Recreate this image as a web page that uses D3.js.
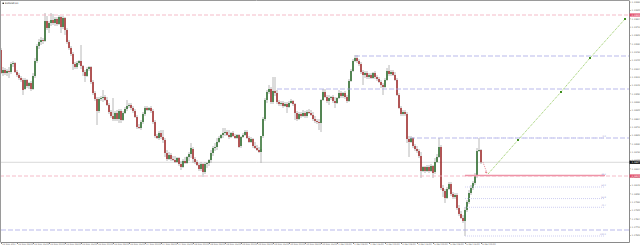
<!DOCTYPE html>
<html>
<head>
<meta charset="utf-8">
<script src="https://cdn.jsdelivr.net/npm/d3@7"></script>
<style>
  html, body { margin: 0; padding: 0; background: #fff; }
  svg { display: block; font-family: "DejaVu Sans", sans-serif; }
</style>
</head>
<body>
<div id="chart"></div>
<script>
// --- DATA ---
const symbol = "EURUSD,H1";

// H1 bars: [open, high, low, close]
const candles = [
  [1.1950,1.1952,1.1926,1.1927],[1.1927,1.1933,1.1924,1.1930],[1.1930,1.1932,1.1925,1.1927],[1.1927,1.1931,1.1924,1.1929],
  [1.1929,1.1933,1.1922,1.1928],[1.1928,1.1938,1.1926,1.1936],[1.1936,1.1939,1.1933,1.1937],[1.1937,1.1938,1.1927,1.1928],
  [1.1928,1.1930,1.1923,1.1925],[1.1925,1.1927,1.1920,1.1922],[1.1922,1.1924,1.1918,1.1920],[1.1920,1.1922,1.1905,1.1910],
  [1.1911,1.1922,1.1910,1.1920],[1.1920,1.1921,1.1912,1.1914],[1.1914,1.1918,1.1911,1.1917],[1.1917,1.1919,1.1909,1.1911],
  [1.1911,1.1927,1.1910,1.1924],[1.1924,1.1942,1.1922,1.1939],[1.1939,1.1956,1.1937,1.1954],[1.1954,1.1961,1.1951,1.1958],
  [1.1958,1.1963,1.1955,1.1960],[1.1960,1.1962,1.1956,1.1959],[1.1959,1.1987,1.1958,1.1979],[1.1979,1.1984,1.1970,1.1972],
  [1.1972,1.1979,1.1967,1.1977],[1.1977,1.1987,1.1974,1.1980],[1.1980,1.1986,1.1975,1.1977],[1.1977,1.1983,1.1974,1.1981],
  [1.1981,1.1983,1.1974,1.1976],[1.1976,1.1985,1.1975,1.1983],[1.1983,1.1984,1.1967,1.1973],[1.1973,1.1984,1.1971,1.1982],
  [1.1982,1.1983,1.1965,1.1970],[1.1970,1.1972,1.1956,1.1958],[1.1958,1.1960,1.1950,1.1952],[1.1952,1.1954,1.1944,1.1946],
  [1.1946,1.1948,1.1930,1.1936],[1.1936,1.1938,1.1931,1.1933],[1.1933,1.1939,1.1931,1.1937],[1.1937,1.1940,1.1935,1.1939],
  [1.1939,1.1955,1.1931,1.1934],[1.1934,1.1935,1.1924,1.1928],[1.1928,1.1930,1.1918,1.1924],[1.1924,1.1933,1.1923,1.1931],
  [1.1931,1.1934,1.1929,1.1933],[1.1933,1.1934,1.1916,1.1918],[1.1918,1.1920,1.1905,1.1907],[1.1907,1.1909,1.1899,1.1901],
  [1.1901,1.1903,1.1875,1.1889],[1.1889,1.1903,1.1887,1.1901],[1.1901,1.1904,1.1899,1.1902],[1.1902,1.1910,1.1898,1.1903],
  [1.1903,1.1905,1.1899,1.1900],[1.1900,1.1903,1.1894,1.1895],[1.1895,1.1897,1.1886,1.1888],[1.1888,1.1890,1.1882,1.1884],
  [1.1884,1.1902,1.1879,1.1881],[1.1881,1.1889,1.1879,1.1887],[1.1887,1.1890,1.1879,1.1881],[1.1881,1.1891,1.1877,1.1889],
  [1.1889,1.1891,1.1877,1.1880],[1.1880,1.1889,1.1879,1.1887],[1.1887,1.1893,1.1886,1.1891],[1.1891,1.1900,1.1889,1.1894],
  [1.1894,1.1897,1.1892,1.1895],[1.1895,1.1897,1.1890,1.1892],[1.1892,1.1894,1.1887,1.1889],[1.1889,1.1891,1.1882,1.1883],
  [1.1883,1.1885,1.1871,1.1873],[1.1873,1.1876,1.1871,1.1872],[1.1872,1.1880,1.1870,1.1878],[1.1878,1.1888,1.1876,1.1886],
  [1.1886,1.1894,1.1884,1.1892],[1.1892,1.1894,1.1889,1.1890],[1.1890,1.1893,1.1889,1.1892],[1.1892,1.1894,1.1887,1.1889],
  [1.1889,1.1891,1.1876,1.1878],[1.1878,1.1880,1.1862,1.1864],[1.1864,1.1866,1.1861,1.1862],[1.1862,1.1869,1.1860,1.1867],
  [1.1867,1.1870,1.1861,1.1863],[1.1863,1.1870,1.1857,1.1860],[1.1860,1.1862,1.1843,1.1847],[1.1847,1.1850,1.1839,1.1841],
  [1.1841,1.1848,1.1840,1.1845],[1.1845,1.1847,1.1839,1.1841],[1.1841,1.1844,1.1839,1.1840],[1.1840,1.1844,1.1837,1.1838],
  [1.1838,1.1843,1.1837,1.1842],[1.1842,1.1843,1.1834,1.1836],[1.1836,1.1839,1.1830,1.1833],[1.1833,1.1841,1.1832,1.1839],
  [1.1839,1.1843,1.1836,1.1837],[1.1837,1.1844,1.1836,1.1843],[1.1843,1.1848,1.1839,1.1846],[1.1846,1.1857,1.1842,1.1852],
  [1.1851,1.1853,1.1837,1.1841],[1.1841,1.1843,1.1836,1.1838],[1.1838,1.1840,1.1834,1.1835],[1.1835,1.1837,1.1829,1.1831],
  [1.1831,1.1838,1.1829,1.1836],[1.1836,1.1837,1.1823,1.1828],[1.1828,1.1838,1.1826,1.1836],[1.1836,1.1838,1.1832,1.1837],
  [1.1837,1.1841,1.1834,1.1840],[1.1840,1.1850,1.1837,1.1847],[1.1847,1.1854,1.1844,1.1852],[1.1852,1.1857,1.1849,1.1853],
  [1.1853,1.1862,1.1850,1.1858],[1.1858,1.1864,1.1857,1.1862],[1.1862,1.1866,1.1861,1.1865],[1.1865,1.1872,1.1862,1.1867],
  [1.1867,1.1872,1.1864,1.1868],[1.1868,1.1870,1.1864,1.1865],[1.1865,1.1870,1.1861,1.1863],[1.1863,1.1868,1.1862,1.1867],
  [1.1867,1.1869,1.1863,1.1864],[1.1864,1.1866,1.1861,1.1862],[1.1862,1.1866,1.1861,1.1865],[1.1865,1.1866,1.1852,1.1853],
  [1.1854,1.1864,1.1852,1.1863],[1.1863,1.1867,1.1862,1.1865],[1.1865,1.1870,1.1864,1.1868],[1.1868,1.1870,1.1861,1.1862],
  [1.1862,1.1864,1.1857,1.1858],[1.1858,1.1863,1.1857,1.1861],[1.1861,1.1862,1.1852,1.1854],[1.1854,1.1858,1.1851,1.1852],
  [1.1852,1.1855,1.1849,1.1850],[1.1850,1.1853,1.1847,1.1848],[1.1848,1.1851,1.1837,1.1864],[1.1864,1.1883,1.1862,1.1881],
  [1.1881,1.1902,1.1879,1.1900],[1.1900,1.1910,1.1897,1.1908],[1.1908,1.1915,1.1906,1.1911],[1.1911,1.1913,1.1896,1.1898],
  [1.1898,1.1923,1.1896,1.1909],[1.1909,1.1923,1.1904,1.1907],[1.1907,1.1910,1.1896,1.1898],[1.1898,1.1900,1.1894,1.1896],
  [1.1896,1.1899,1.1894,1.1897],[1.1897,1.1899,1.1892,1.1894],[1.1894,1.1898,1.1893,1.1896],[1.1896,1.1898,1.1887,1.1893],
  [1.1893,1.1899,1.1892,1.1897],[1.1897,1.1901,1.1896,1.1899],[1.1899,1.1900,1.1894,1.1896],[1.1896,1.1897,1.1880,1.1887],
  [1.1887,1.1889,1.1879,1.1881],[1.1881,1.1888,1.1880,1.1886],[1.1886,1.1888,1.1882,1.1884],[1.1884,1.1890,1.1883,1.1887],
  [1.1887,1.1889,1.1882,1.1884],[1.1884,1.1890,1.1882,1.1888],[1.1888,1.1891,1.1886,1.1887],[1.1887,1.1890,1.1884,1.1885],
  [1.1885,1.1888,1.1879,1.1881],[1.1881,1.1884,1.1877,1.1879],[1.1879,1.1881,1.1876,1.1878],[1.1878,1.1881,1.1870,1.1877],
  [1.1877,1.1901,1.1868,1.1900],[1.1900,1.1911,1.1899,1.1908],[1.1908,1.1911,1.1902,1.1903],[1.1903,1.1905,1.1897,1.1899],
  [1.1899,1.1905,1.1895,1.1902],[1.1902,1.1904,1.1900,1.1903],[1.1903,1.1905,1.1897,1.1899],[1.1899,1.1903,1.1892,1.1897],
  [1.1897,1.1903,1.1896,1.1902],[1.1902,1.1910,1.1901,1.1907],[1.1907,1.1909,1.1902,1.1904],[1.1904,1.1908,1.1902,1.1907],
  [1.1907,1.1909,1.1901,1.1903],[1.1903,1.1905,1.1897,1.1899],[1.1899,1.1921,1.1898,1.1919],[1.1919,1.1931,1.1918,1.1929],
  [1.1929,1.1941,1.1928,1.1939],[1.1939,1.1945,1.1938,1.1942],[1.1942,1.1945,1.1937,1.1939],[1.1939,1.1941,1.1934,1.1936],
  [1.1936,1.1938,1.1926,1.1928],[1.1928,1.1930,1.1915,1.1925],[1.1925,1.1929,1.1922,1.1927],[1.1927,1.1929,1.1921,1.1923],
  [1.1923,1.1927,1.1921,1.1925],[1.1925,1.1927,1.1921,1.1922],[1.1922,1.1928,1.1921,1.1927],[1.1927,1.1929,1.1921,1.1923],
  [1.1923,1.1925,1.1919,1.1921],[1.1921,1.1923,1.1917,1.1918],[1.1918,1.1920,1.1912,1.1915],[1.1915,1.1917,1.1905,1.1913],
  [1.1913,1.1922,1.1912,1.1920],[1.1920,1.1932,1.1919,1.1929],[1.1929,1.1935,1.1924,1.1926],[1.1926,1.1930,1.1924,1.1928],
  [1.1928,1.1930,1.1924,1.1925],[1.1925,1.1928,1.1919,1.1920],[1.1920,1.1922,1.1904,1.1905],[1.1905,1.1907,1.1891,1.1892],
  [1.1892,1.1894,1.1884,1.1886],[1.1886,1.1890,1.1884,1.1888],[1.1888,1.1890,1.1884,1.1886],[1.1886,1.1888,1.1857,1.1861],
  [1.1861,1.1864,1.1843,1.1858],[1.1858,1.1864,1.1857,1.1862],[1.1862,1.1863,1.1852,1.1854],[1.1854,1.1856,1.1849,1.1851],
  [1.1851,1.1854,1.1847,1.1849],[1.1849,1.1851,1.1842,1.1844],[1.1844,1.1848,1.1822,1.1829],[1.1829,1.1834,1.1828,1.1833],
  [1.1833,1.1834,1.1827,1.1829],[1.1829,1.1835,1.1828,1.1833],[1.1833,1.1835,1.1827,1.1829],[1.1829,1.1836,1.1828,1.1834],
  [1.1834,1.1835,1.1822,1.1827],[1.1828,1.1842,1.1826,1.1838],[1.1838,1.1846,1.1837,1.1843],[1.1843,1.1862,1.1842,1.1853],
  [1.1853,1.1855,1.1810,1.1812],[1.1812,1.1815,1.1803,1.1809],[1.1809,1.1811,1.1797,1.1802],[1.1802,1.1813,1.1801,1.1811],
  [1.1811,1.1818,1.1810,1.1816],[1.1816,1.1818,1.1804,1.1806],[1.1806,1.1808,1.1801,1.1803],[1.1803,1.1807,1.1801,1.1805],
  [1.1805,1.1807,1.1790,1.1792],[1.1792,1.1795,1.1784,1.1786],[1.1786,1.1789,1.1781,1.1782],[1.1782,1.1785,1.1777,1.1779],
  [1.1779,1.1793,1.1764,1.1790],[1.1790,1.1800,1.1788,1.1798],[1.1798,1.1810,1.1796,1.1807],[1.1807,1.1815,1.1805,1.1812],
  [1.1812,1.1819,1.1810,1.1817],[1.1817,1.1827,1.1815,1.1824],[1.1824,1.1852,1.1822,1.1849],[1.1849,1.1862,1.1848,1.1850],
  [1.1850,1.1851,1.1836,1.18377]
];

// one time label every 8 bars
const labelEvery = 8;
const timeLabels = [
  "22 Nov 2017", "22 Nov 08:00", "22 Nov 16:00", "23 Nov 00:00", "23 Nov 08:00", "23 Nov 16:00",
  "24 Nov 00:00", "24 Nov 08:00", "24 Nov 16:00", "27 Nov 00:00", "27 Nov 08:00", "27 Nov 16:00",
  "28 Nov 00:00", "28 Nov 08:00", "28 Nov 16:00", "29 Nov 00:00", "29 Nov 08:00", "29 Nov 16:00",
  "30 Nov 00:00", "30 Nov 08:00", "30 Nov 16:00", "1 Dec 00:00", "1 Dec 08:00", "1 Dec 16:00",
  "4 Dec 00:00", "4 Dec 08:00", "4 Dec 16:00", "5 Dec 00:00", "5 Dec 08:00", "5 Dec 16:00", "6 Dec 00:00"
];

const priceTicks = [
  1.19983, 1.19900, 1.19817, 1.19733, 1.19650, 1.19567, 1.19483, 1.19400, 1.19317, 1.19233,
  1.19150, 1.19067, 1.18983, 1.18900, 1.18817, 1.18733, 1.18650, 1.18567, 1.18483, 1.18400,
  1.18317, 1.18233, 1.18150, 1.18067, 1.17983, 1.17900, 1.17817, 1.17733, 1.17650
];

const bidPrice = 1.18377;

// pink horizontal lines (with axis tag)
const alertLevels = [1.1985, 1.1824];
// blue dashed levels: price and the bar where they start
const levelPrices = [1.1944, 1.1911, 1.1862, 1.1770];
const levelStartBars = [177, 138, 204.5, 0];

// Fibonacci retracement: low bar -> high, drawn to a future bar
const fibStart = { bar: 232, price: 1.1764 };
const fibEnd = { bar: 302, price: 1.1862 };
const fibLevels = [0, 0.382, 0.5, 0.618, 0.707, 1];

// projected path (bar index, price)
const projBars = [243.5, 258.5, 280, 294.5, 312];
const projPrices = [1.1826, 1.1860, 1.1908, 1.1942, 1.1981];
// small pull-back arrow from the last close
const pullBars = [241, 243];
const pullPrices = [1.18377, 1.1827];

// --- KONFIGURATION ---
const width = 640, height = 247;
const plotRight = 629, plotBottom = 242;
const totalSlots = 314;

const svg = d3.select("#chart").append("svg")
  .attr("width", width)
  .attr("height", height);

svg.append("rect").attr("width", width).attr("height", height).attr("fill", "#fff");

const x = d3.scaleLinear().domain([-0.5, totalSlots]).range([0, plotRight]);
const y = d3.scaleLinear().domain([1.2, 1.1758]).range([0, plotBottom]);

svg.append("defs").append("clipPath").attr("id", "plot")
  .append("rect").attr("x", 0).attr("y", 1).attr("width", plotRight).attr("height", plotBottom - 1);

const plot = svg.append("g").attr("clip-path", "url(#plot)");

// bid line
plot.append("line")
  .attr("x1", 0).attr("x2", plotRight)
  .attr("y1", y(bidPrice)).attr("y2", y(bidPrice))
  .attr("stroke", "#cfcfcf").attr("stroke-width", 0.8);

// candles
const bull = "#1b621b", bear = "#9e1d1d";
const bars = plot.append("g").selectAll("g").data(candles).join("g");
bars.append("line")
  .attr("x1", (d, i) => x(i)).attr("x2", (d, i) => x(i))
  .attr("y1", d => y(d[1])).attr("y2", d => y(d[2]))
  .attr("stroke", "#a6a6a6").attr("stroke-width", 0.8);
bars.append("rect")
  .attr("x", (d, i) => x(i) - 0.7)
  .attr("width", 1.4)
  .attr("y", d => y(Math.max(d[0], d[3])))
  .attr("height", d => Math.max(0.6, Math.abs(y(d[0]) - y(d[3]))))
  .attr("fill", d => d[3] >= d[0] ? bull : bear);

// blue dashed levels
plot.append("g").selectAll("line").data(levelPrices).join("line")
  .attr("x1", (d, i) => x(levelStartBars[i])).attr("x2", plotRight)
  .attr("y1", d => y(d)).attr("y2", d => y(d))
  .attr("stroke", "#a7a7e6").attr("stroke-width", 0.8)
  .attr("stroke-dasharray", "5,2");

// pink dashed alert levels
plot.append("g").selectAll("line").data(alertLevels).join("line")
  .attr("x1", 0).attr("x2", plotRight)
  .attr("y1", d => y(d)).attr("y2", d => y(d))
  .attr("stroke", "#f3a9ba").attr("stroke-width", 0.8)
  .attr("stroke-dasharray", "4,2");

// Fibonacci levels
const fibPrice = l => fibEnd.price - l * (fibEnd.price - fibStart.price);
const fib = plot.append("g");
fib.selectAll("line").data(fibLevels).join("line")
  .attr("x1", x(fibStart.bar)).attr("x2", x(fibEnd.bar))
  .attr("y1", d => y(fibPrice(d))).attr("y2", d => y(fibPrice(d)))
  .attr("stroke", d => d === 0.382 ? "#ef94a8" : "#c9c9f0")
  .attr("stroke-width", d => d === 0.382 ? 1.6 : 0.9)
  .attr("stroke-dasharray", d => d === 0.382 ? null : "1,1");
fib.selectAll("text").data(fibLevels).join("text")
  .attr("x", x(fibEnd.bar) + 1)
  .attr("y", d => y(fibPrice(d)) - 0.8)
  .attr("text-anchor", "end")
  .attr("font-size", 2.2)
  .attr("fill", "#9b9bd6")
  .text(d => (d * 100).toFixed(1));

// projected path
const proj = projBars.map((b, i) => [b, projPrices[i]]);
const line = d3.line().x(d => x(d[0])).y(d => y(d[1]));
plot.append("path").datum(proj)
  .attr("d", line)
  .attr("fill", "none")
  .attr("stroke", "#86c24a").attr("stroke-width", 0.9)
  .attr("stroke-dasharray", "1,1");
plot.append("g").selectAll("rect").data(proj.slice(1)).join("rect")
  .attr("x", d => x(d[0]) - 1).attr("y", d => y(d[1]) - 1)
  .attr("width", 2).attr("height", 2)
  .attr("fill", "#3f8f1f");

// pull-back arrow
const pull = pullBars.map((b, i) => [b, pullPrices[i]]);
plot.append("path").datum(pull)
  .attr("d", line)
  .attr("fill", "none")
  .attr("stroke", "#e0707f").attr("stroke-width", 0.8)
  .attr("stroke-dasharray", "1,1");
const pe = pull[1];
plot.append("path")
  .attr("d", `M${x(pe[0])},${y(pe[1]) + 0.5} l-2,-1.2 l1,-1 z`)
  .attr("fill", "#d0404f");

// frame
svg.append("line").attr("x1", 0).attr("x2", plotRight).attr("y1", 0.5).attr("y2", 0.5)
  .attr("stroke", "#9a9a9a").attr("stroke-width", 1);
svg.append("line").attr("x1", 0.5).attr("x2", 0.5).attr("y1", 0).attr("y2", plotBottom)
  .attr("stroke", "#9a9a9a").attr("stroke-width", 1);

// --- ACHSEN ---
const xAxis = d3.axisBottom(x)
  .tickValues(timeLabels.map((t, i) => i * labelEvery))
  .tickFormat((d, i) => timeLabels[i])
  .tickSize(2).tickSizeOuter(0);
const gx = svg.append("g")
  .attr("transform", `translate(0,${plotBottom})`)
  .call(xAxis);
gx.attr("font-size", 2.2).attr("font-family", "DejaVu Sans, sans-serif");
gx.select(".domain").attr("stroke", "#8a8a8a");
gx.selectAll(".tick line").attr("stroke", "#8a8a8a");
gx.selectAll("text")
  .attr("text-anchor", "start")
  .attr("x", 0.8).attr("y", 1.2)
  .attr("fill", "#666");

const yAxis = d3.axisRight(y)
  .tickValues(priceTicks)
  .tickFormat(d3.format(".5f"))
  .tickSize(1.5).tickSizeOuter(0);
const gy = svg.append("g")
  .attr("transform", `translate(${plotRight},0)`)
  .call(yAxis);
gy.attr("font-size", 2.3).attr("font-family", "DejaVu Sans, sans-serif");
gy.select(".domain").attr("stroke", "#8a8a8a");
gy.selectAll(".tick line").attr("stroke", "#8a8a8a");
gy.selectAll("text").attr("x", 2.5).attr("fill", "#666");

// price tags on the axis
function tag(price, fill) {
  const g = svg.append("g").attr("transform", `translate(${plotRight},${y(price)})`);
  g.append("rect").attr("x", 0.5).attr("y", -1.6).attr("width", 11).attr("height", 3.2).attr("fill", fill);
  g.append("text").attr("x", 2.5).attr("y", 0.8).attr("font-size", 2.3)
    .attr("fill", "#fff").text(d3.format(".5f")(price));
}
alertLevels.forEach(p => tag(p, "#e2506c"));
tag(bidPrice, "#111");

// symbol caption
svg.append("rect").attr("x", 2.5).attr("y", 2.6).attr("width", 1.4).attr("height", 1.4).attr("fill", "#222");
svg.append("text").attr("x", 5).attr("y", 4).attr("font-size", 2.3).attr("fill", "#333").text(symbol);
</script>
</body>
</html>
